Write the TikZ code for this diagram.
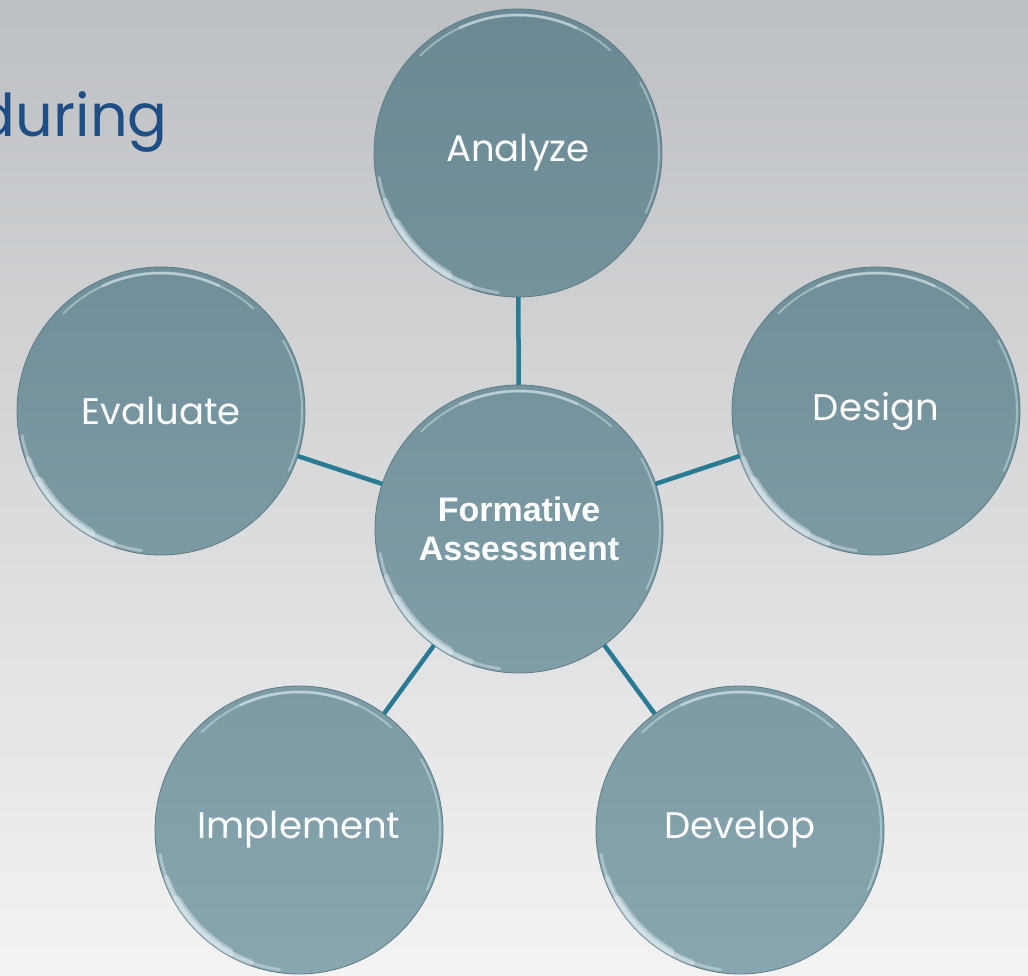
\documentclass[tikz,border=0pt]{standalone}
\usepackage{fontspec}
\setmainfont{Poppins}
\newfontfamily\boldlab{Liberation Sans}
\definecolor{bgtop}{RGB}{189,192,195}
\definecolor{bgbot}{RGB}{243,243,243}
\definecolor{connc}{RGB}{42,122,147}
\definecolor{titlec}{RGB}{31,78,133}
\definecolor{edgec}{RGB}{96,124,134}
\definecolor{rimc}{RGB}{230,242,246}
\definecolor{rowAt}{RGB}{106,137,148}
\definecolor{rowAb}{RGB}{116,146,156}
\definecolor{rowBt}{RGB}{112,143,154}
\definecolor{rowBb}{RGB}{124,154,164}
\definecolor{rowCt}{RGB}{116,147,158}
\definecolor{rowCb}{RGB}{128,158,168}
\definecolor{rowDt}{RGB}{124,155,165}
\definecolor{rowDb}{RGB}{136,166,176}
\tikzset{
  bubble/.style={circle, minimum size=288pt, inner sep=0pt, outer sep=0pt,
    draw=edgec, line width=0.8pt, text=white,
    font=\fontsize{37}{44}\selectfont},
  connector/.style={draw=connc, line width=4.5pt},
  rim/.style={rimc, line width=#1, opacity=0.4, line cap=round},
}
\newcommand\glass[1]{%
  \begin{scope}
    \clip (#1.center) circle (143.6pt);
    \draw[rim=3pt] ([shift={(190:141pt)}]#1.center) arc[start angle=190, end angle=262, radius=141pt];
    \draw[rim=6pt] ([shift={(200:141pt)}]#1.center) arc[start angle=200, end angle=250, radius=141pt];
    \draw[rim=10pt] ([shift={(210:141pt)}]#1.center) arc[start angle=210, end angle=240, radius=141pt];
    \draw[rim=2pt] ([shift={(48:138pt)}]#1.center) arc[start angle=48, end angle=135, radius=138pt];
    \draw[rim=3pt] ([shift={(65:138pt)}]#1.center) arc[start angle=65, end angle=115, radius=138pt];
    \draw[rim=2pt] ([shift={(-25:141pt)}]#1.center) arc[start angle=-25, end angle=30, radius=141pt];
  \end{scope}}
\begin{document}
\begin{tikzpicture}[x=1pt, y=1pt]
  \shade[top color=bgtop, bottom color=bgbot] (0,0) rectangle (1028,975);
  \useasboundingbox (0,0) rectangle (1028,975);

  \node[anchor=base east, text=titlec, font=\fontsize{59}{70}\selectfont, inner sep=0pt]
    (title) at (168,838) {during};

  \node[bubble, top color=rowAt, bottom color=rowAb] (an) at (518,822) {Analyze};
  \node[bubble, top color=rowBt, bottom color=rowBb] (ev) at (161,564) {Evaluate};
  \node[bubble, top color=rowBt, bottom color=rowBb] (de) at (876,564) {Design};
  \node[bubble, top color=rowDt, bottom color=rowDb] (im) at (299,145) {Implement};
  \node[bubble, top color=rowDt, bottom color=rowDb] (dv) at (740,145) {Develop};
  \node[bubble, top color=rowCt, bottom color=rowCb, align=center,
        font=\boldlab\bfseries\fontsize{34}{39}\selectfont] (fa) at (519,446)
        {Formative\\Assessment};

  \draw[connector] (fa) -- (an);
  \draw[connector] (fa) -- (ev);
  \draw[connector] (fa) -- (de);
  \draw[connector] (fa) -- (im);
  \draw[connector] (fa) -- (dv);

  \glass{an}\glass{ev}\glass{de}\glass{im}\glass{dv}\glass{fa}
\end{tikzpicture}
\end{document}
